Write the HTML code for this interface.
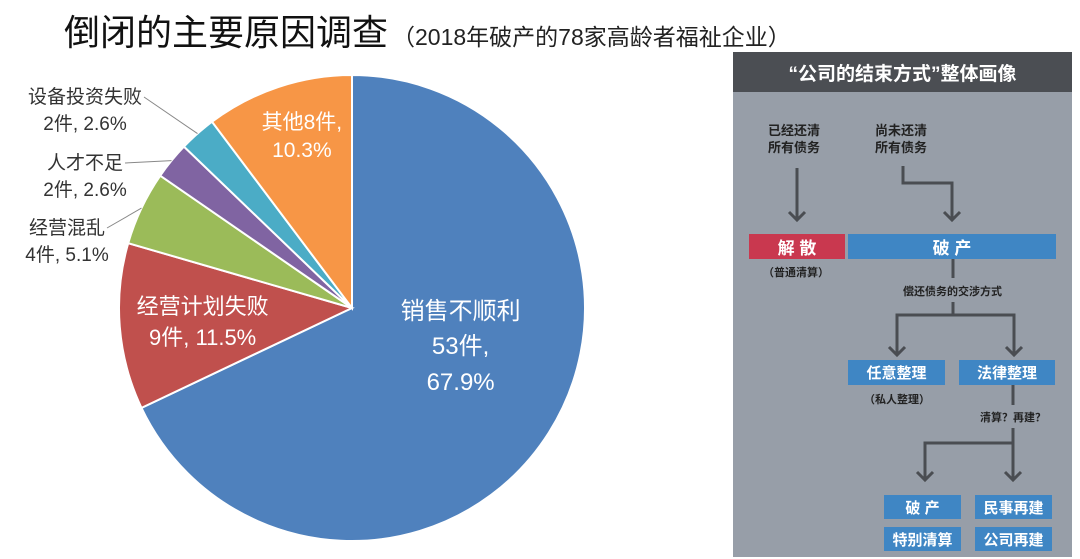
<!DOCTYPE html>
<html><head><meta charset="utf-8">
<style>
body{margin:0;background:#fff;}
#root{position:relative;width:1080px;height:559px;overflow:hidden;background:#fff;font-family:"Liberation Sans","Noto Sans CJK SC",sans-serif;}
.t{position:absolute;white-space:nowrap;}
.box{position:absolute;color:#fff;font-weight:bold;font-size:15px;display:flex;align-items:center;justify-content:center;background:#3f86c4;}
</style></head><body>
<div id="root">
<div class="t" style="left:64px;top:4px;font-size:36px;color:#111;">倒闭的主要原因调查<span style="font-size:23px;margin-left:4px;color:#222">（2018年破产的78家高龄者福祉企业）</span></div>
<svg id="pie" width="1080" height="559" style="position:absolute;left:0;top:0"></svg>

<div style="position:absolute;left:733px;top:52px;width:339px;height:505px;background:#979ea8;">
<div style="position:absolute;left:0;top:0;width:339px;height:40px;background:#4b4e53;color:#fff;font-size:19px;font-weight:bold;display:flex;align-items:center;justify-content:center;">“公司的结束方式”整体画像</div>
</div>
<svg width="1080" height="559" style="position:absolute;left:0;top:0" fill="none" stroke="#4a4d52" stroke-width="3">
<path d="M797 168V220M789 212L797 220L805 212"/>
<path d="M903 166V183H952V220M944 212L952 220L960 212"/>
<path d="M953 259V278M953 302V315M897 355V315H1014V355M889 347L897 355L905 347M1006 347L1014 355L1022 347"/>
<path d="M1013 385V405M1013 428V443M925 480V443H1013V480M917 472L925 480L933 472M1005 472L1013 480L1021 472"/>
</svg>
<div class="t" style="left:768px;top:122px;font-size:13px;line-height:17px;color:#222;font-weight:bold">已经还清<br>所有债务</div>
<div class="t" style="left:875px;top:122px;font-size:13px;line-height:17px;color:#222;font-weight:bold">尚未还清<br>所有债务</div>
<div class="box" style="left:749px;top:234px;width:96px;height:25px;background:#c9384f;font-size:17px">解 散</div>
<div class="box" style="left:848px;top:234px;width:208px;height:25px;font-size:17px">破 产</div>
<div class="t" style="left:763px;top:264px;font-size:11px;color:#222;font-weight:bold">（普通清算）</div>
<div class="t" style="left:903px;top:283px;font-size:11px;color:#222;font-weight:bold">偿还债务的交涉方式</div>
<div class="box" style="left:848px;top:360px;width:97px;height:25px">任意整理</div>
<div class="box" style="left:959px;top:360px;width:96px;height:25px">法律整理</div>
<div class="t" style="left:864px;top:391px;font-size:11px;color:#222;font-weight:bold">（私人整理）</div>
<div class="t" style="left:980px;top:409px;font-size:11px;color:#222;font-weight:bold">清算？再建？</div>
<div class="box" style="left:884px;top:495px;width:77px;height:24px">破 产</div>
<div class="box" style="left:975px;top:495px;width:77px;height:24px">民事再建</div>
<div class="box" style="left:884px;top:527px;width:77px;height:24px">特别清算</div>
<div class="box" style="left:975px;top:527px;width:77px;height:24px">公司再建</div>
</div>
<script>
const categories=["销售不顺利","经营计划失败","经营混乱","人才不足","设备投资失败","其他"];
const counts=[53,9,4,2,2,8];
const pctLabels=["67.9%","11.5%","5.1%","2.6%","2.6%","10.3%"];
const colors=["#4f81bd","#c0504d","#9bbb59","#8064a2","#4bacc6","#f79646"];
const svg=document.getElementById('pie');
const NS="http://www.w3.org/2000/svg";
const cx=352,cy=308,r=233;
const total=counts.reduce((a,b)=>a+b,0);
function pt(a,rr){return [cx+rr*Math.sin(a),cy-rr*Math.cos(a)];}
let acc=0;const mids=[];
counts.forEach((v,i)=>{
 const a0=acc/total*2*Math.PI;acc+=v;const a1=acc/total*2*Math.PI;
 mids.push((a0+a1)/2);
 const p0=pt(a0,r),p1=pt(a1,r);
 const path=document.createElementNS(NS,'path');
 path.setAttribute('d',`M${cx} ${cy}L${p0[0]} ${p0[1]}A${r} ${r} 0 ${a1-a0>Math.PI?1:0} 1 ${p1[0]} ${p1[1]}Z`);
 path.setAttribute('fill',colors[i]);path.setAttribute('stroke','#fff');path.setAttribute('stroke-width','2');
 
 
 svg.appendChild(path);
});
function txt(x,y,s,size,fill,anchor){
 const t=document.createElementNS(NS,'text');
 t.setAttribute('x',x);t.setAttribute('y',y);t.setAttribute('font-size',size);t.setAttribute('fill',fill);
 t.setAttribute('text-anchor',anchor||'middle');t.textContent=s;
 
 
 svg.appendChild(t);
}
// inside labels
let p=pt(mids[0],r*0.45);
txt(p[0]+20,p[1]-45,categories[0],24,'#fff');txt(p[0]+20,p[1]-10,counts[0]+'件,',24,'#fff');txt(p[0]+20,p[1]+26,pctLabels[0],24,'#fff');
p=pt(mids[1],r*0.6);
txt(p[0]-10,p[1]-5,categories[1],22,'#fff');txt(p[0]-10,p[1]+26,counts[1]+'件, '+pctLabels[1],22,'#fff');
p=pt(mids[5],r*0.72);
txt(p[0]+3,p[1]-20,categories[5]+counts[5]+'件,',21,'#fff');txt(p[0]+3,p[1]+8,pctLabels[5],21,'#fff');
// outside labels
const outPos=[null,null,[67,234],[85,169],[85,103],null];
const lineAttr=(d)=>{const l=document.createElementNS(NS,'path');l.setAttribute('d',d);l.setAttribute('stroke','#888');l.setAttribute('fill','none');
 
 
 svg.appendChild(l);};
[2,3,4].forEach(i=>{
 const [x,y]=outPos[i];
 txt(x,y,categories[i],19,'#333');
 txt(x,y+27,counts[i]+'件, '+pctLabels[i],19,'#333');
 const e=pt(mids[i],r);
 lineAttr(`M${x+(categories[i].length*19)/2+2} ${y-6}L${e[0]} ${e[1]}`);
});
</script>
</body></html>
